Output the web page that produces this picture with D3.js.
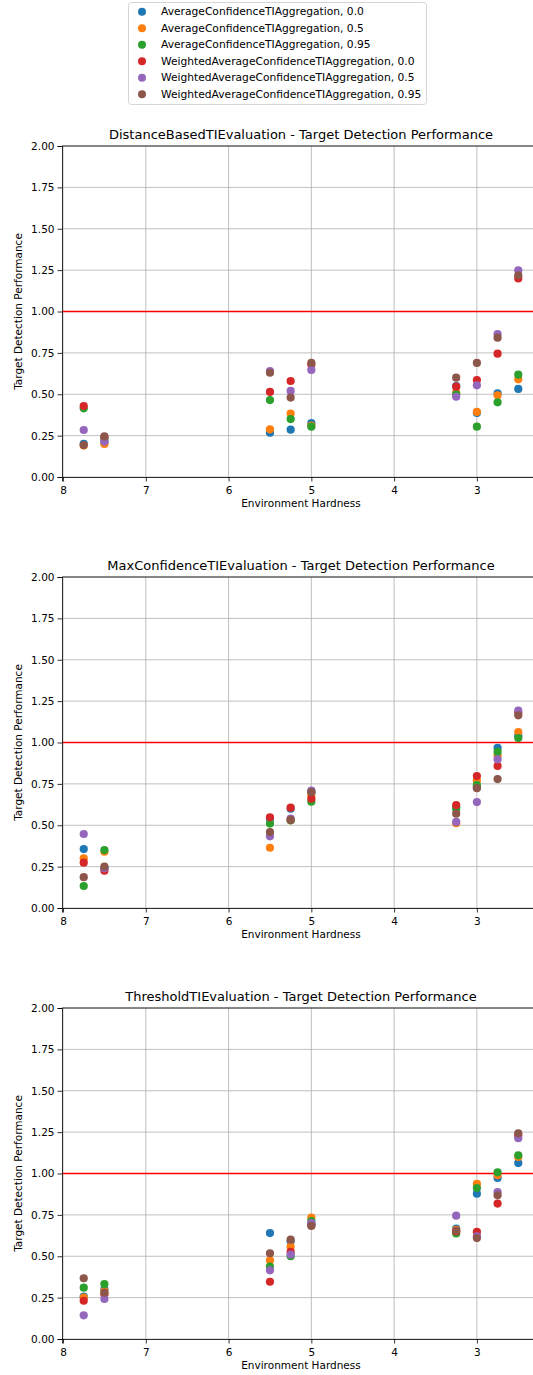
<!DOCTYPE html>
<html>
<head>
<meta charset="utf-8">
<script src="https://cdn.jsdelivr.net/npm/d3@7"></script>
<style>
  body { margin: 0; background: #fff; }
  text { font-family: "DejaVu Sans", sans-serif; fill: #000; }
</style>
</head>
<body>
<div id="chart"></div>
<script>
// environment hardness values (x)
const hardness = [7.75, 7.5, 5.5, 5.25, 5.0, 3.25, 3.0, 2.75, 2.5];

const seriesNames = [
    'AverageConfidenceTIAggregation, 0.0',
    'AverageConfidenceTIAggregation, 0.5',
    'AverageConfidenceTIAggregation, 0.95',
    'WeightedAverageConfidenceTIAggregation, 0.0',
    'WeightedAverageConfidenceTIAggregation, 0.5',
    'WeightedAverageConfidenceTIAggregation, 0.95'
];
const seriesColors = ['#1f77b4', '#ff7f0e', '#2ca02c', '#d62728', '#9467bd', '#8c564b'];

const panelTitles = [
    'DistanceBasedTIEvaluation - Target Detection Performance',
    'MaxConfidenceTIEvaluation - Target Detection Performance',
    'ThresholdTIEvaluation - Target Detection Performance'
];

const yTicks = [0, 0.25, 0.5, 0.75, 1.0, 1.25, 1.5, 1.75, 2.0];
const xTicks = [8, 7, 6, 5, 4, 3];

// one row per series, one value per hardness
const distanceBased = [
    [0.20, 0.21, 0.268, 0.286, 0.326, 0.55, 0.387, 0.506, 0.532],
    [0.19, 0.20, 0.288, 0.383, 0.31, 0.51, 0.393, 0.494, 0.59],
    [0.415, 0.23, 0.465, 0.35, 0.304, 0.50, 0.304, 0.451, 0.618],
    [0.429, 0.24, 0.514, 0.58, 0.68, 0.546, 0.586, 0.745, 1.20],
    [0.284, 0.214, 0.64, 0.52, 0.647, 0.485, 0.554, 0.864, 1.249],
    [0.193, 0.245, 0.630, 0.48, 0.69, 0.60, 0.689, 0.842, 1.219]
];
const maxConfidence = [
    [0.356, 0.24, 0.54, 0.60, 0.70, 0.61, 0.73, 0.967, 1.04],
    [0.30, 0.34, 0.364, 0.53, 0.68, 0.512, 0.77, 0.92, 1.063],
    [0.133, 0.35, 0.51, 0.53, 0.642, 0.60, 0.742, 0.943, 1.027],
    [0.274, 0.225, 0.548, 0.606, 0.66, 0.622, 0.797, 0.858, 1.18],
    [0.447, 0.24, 0.433, 0.54, 0.71, 0.52, 0.64, 0.898, 1.192],
    [0.186, 0.25, 0.459, 0.532, 0.70, 0.57, 0.724, 0.779, 1.164]
];
const threshold = [
    [0.256, 0.30, 0.64, 0.59, 0.69, 0.667, 0.878, 0.973, 1.063],
    [0.25, 0.29, 0.475, 0.558, 0.733, 0.66, 0.937, 0.99, 1.10],
    [0.31, 0.332, 0.437, 0.50, 0.713, 0.638, 0.912, 1.007, 1.11],
    [0.231, 0.27, 0.346, 0.526, 0.69, 0.65, 0.647, 0.818, 1.23],
    [0.143, 0.242, 0.415, 0.51, 0.70, 0.745, 0.62, 0.888, 1.213],
    [0.367, 0.28, 0.518, 0.60, 0.683, 0.654, 0.61, 0.868, 1.243]
];
const panels = [distanceBased, maxConfidence, threshold];

const W = 533, H = 1375;
const left = 62, right = 540;
const firstTop = 146, plotH = 331, step = 431;

const svg = d3.select('#chart').append('svg')
    .attr('width', W)
    .attr('height', H);

const x = d3.scaleLinear()
    .domain([8.0125, 2.2375])
    .range([left, right]);

// legend
const legend = svg.append('g').attr('transform', 'translate(128, 2)');
legend.append('rect')
    .attr('x', 0.5).attr('y', 0.5)
    .attr('width', 298).attr('height', 102)
    .attr('rx', 3)
    .attr('fill', '#fff')
    .attr('stroke', '#d5d5d5');
seriesNames.forEach((name, i) => {
    const row = legend.append('g').attr('transform', `translate(0, ${9.7 + i * 16.5})`);
    row.append('circle').attr('cx', 14).attr('cy', 0).attr('r', 4).attr('fill', seriesColors[i]);
    row.append('text').attr('x', 33).attr('y', 0).attr('dy', '0.35em')
        .style('font-size', '10.7px').text(name);
});

panels.forEach((data, p) => {
    const top = firstTop + p * step;
    const y = d3.scaleLinear().domain([0, 2]).range([top + plotH, top]);
    const g = svg.append('g');

    // grid
    g.selectAll('.hgrid').data(yTicks).enter().append('line')
        .attr('x1', left).attr('x2', right)
        .attr('y1', d => y(d)).attr('y2', d => y(d))
        .attr('stroke', '#b0b0b0').attr('stroke-width', 0.8);
    g.selectAll('.vgrid').data(xTicks).enter().append('line')
        .attr('x1', d => x(d)).attr('x2', d => x(d))
        .attr('y1', top).attr('y2', top + plotH)
        .attr('stroke', '#b0b0b0').attr('stroke-width', 0.8);

    // reference line at 1.0
    g.append('line')
        .attr('x1', left).attr('x2', right)
        .attr('y1', y(1)).attr('y2', y(1))
        .attr('stroke', 'red').attr('stroke-width', 1.5);

    // points, series order so later series sit on top
    data.forEach((vals, s) => {
        g.append('g').selectAll('circle')
            .data(vals)
            .enter()
            .append('circle')
            .attr('cx', (d, i) => x(hardness[i]))
            .attr('cy', d => y(d))
            .attr('r', 4.1)
            .attr('fill', seriesColors[s]);
    });

    // axes
    const xAxis = g.append('g')
        .attr('transform', `translate(0, ${top + plotH})`)
        .call(d3.axisBottom(x).tickValues(xTicks).tickFormat(d3.format('d')).tickSizeOuter(0).tickSize(4.5));
    const yAxis = g.append('g')
        .attr('transform', `translate(${left}, 0)`)
        .call(d3.axisLeft(y).tickValues(yTicks).tickFormat(d3.format('.2f')).tickSizeOuter(0).tickSize(4.5));
    [xAxis, yAxis].forEach(a => {
        a.selectAll('text').style('font-size', '10.5px').style('font-family', '"DejaVu Sans", sans-serif');
        a.selectAll('line').attr('stroke', '#000').attr('stroke-width', 0.8);
        a.select('.domain').attr('stroke', '#000').attr('stroke-width', 0.8);
    });
    xAxis.selectAll('text').attr('dy', '0.9em');

    // top spine
    g.append('line')
        .attr('x1', left).attr('x2', right)
        .attr('y1', top).attr('y2', top)
        .attr('stroke', '#000').attr('stroke-width', 0.8);

    // title and labels
    svg.append('text')
        .attr('x', (left + right) / 2).attr('y', top - 7)
        .attr('text-anchor', 'middle')
        .style('font-size', '13px')
        .text(panelTitles[p]);
    svg.append('text')
        .attr('x', (left + right) / 2).attr('y', top + plotH + 30)
        .attr('text-anchor', 'middle')
        .style('font-size', '10.5px')
        .text('Environment Hardness');
    svg.append('text')
        .attr('transform', `translate(22, ${top + plotH / 2}) rotate(-90)`)
        .attr('text-anchor', 'middle')
        .style('font-size', '10.5px')
        .text('Target Detection Performance');
});
</script>
</body>
</html>
